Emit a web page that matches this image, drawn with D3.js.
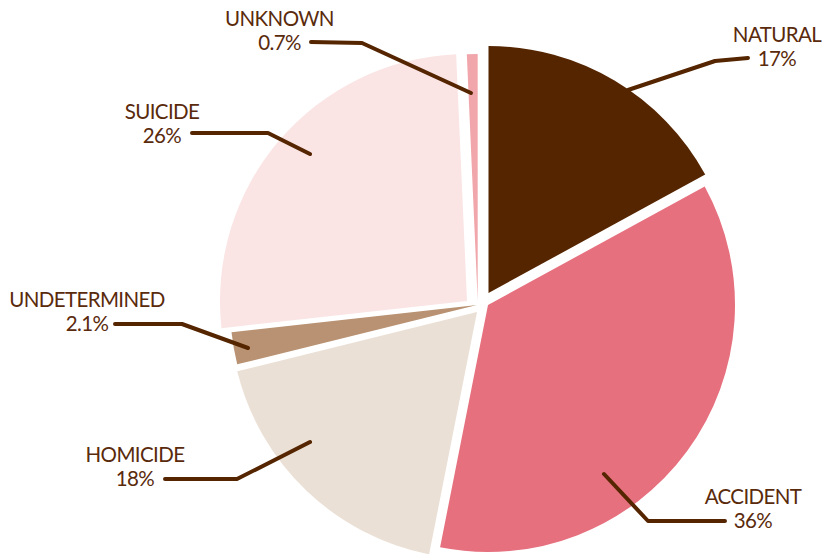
<!DOCTYPE html>
<html>
<head>
<meta charset="utf-8">
<script src="https://cdn.jsdelivr.net/npm/d3@7/dist/d3.min.js"></script>
<style>
  html, body { margin: 0; padding: 0; background: #ffffff; }
  svg { display: block; }
  text { font-family: Lato, "Open Sans", sans-serif; }
</style>
</head>
<body>
<svg id="chart" width="825" height="554"></svg>
<script>
// ---- data ----
const categories = ["NATURAL", "ACCIDENT", "HOMICIDE", "UNDETERMINED", "SUICIDE", "UNKNOWN"];
const values = [17, 36, 18, 2.1, 26, 0.7];
const valueLabels = ["17%", "36%", "18%", "2.1%", "26%", "0.7%"];

// ---- styles / layout ----
const colors = ["#552500", "#e6707e", "#ebe0d5", "#b89272", "#fae4e4", "#f0a6aa"];
const textColor = "#5a2a0c";
const lineColor = "#552500";
const center = [478, 302];
const radius = 247;
// small per-slice displacement (explode) in px
const explode = [[10.5, -9], [10, 3], [-1, 10], [-1, 3], [-11, -1], [-0.3, -1]];
// label anchors (centre of text block, first baseline)
const labelPos = [[777, 42], [753, 504], [135, 462], [87, 307], [162, 119], [279.5, 26]];
const lineGap = 24;
// leader polylines: [label-side end, elbow, slice-side end]
const leaders = [
  [[748, 58], [715, 61], [628, 90]],
  [[725, 521], [648, 521], [604, 474]],
  [[165, 479], [237, 479], [310, 442]],
  [[115, 324], [182, 324], [248, 348]],
  [[192, 133], [268, 133], [310, 154]],
  [[311, 42], [362, 43], [471, 93]]
];

const svg = d3.select("#chart");
const pie = d3.pie().sort(null).value(d => d);
const arc = d3.arc().innerRadius(0).outerRadius(radius);
const arcs = pie(values);

svg.append("g")
  .attr("transform", `translate(${center[0]},${center[1]})`)
  .selectAll("path")
  .data(arcs)
  .join("path")
  .attr("transform", (d, i) => `translate(${explode[i][0]},${explode[i][1]})`)
  .attr("d", arc)
  .attr("fill", (d, i) => colors[i]);

const line = d3.line();
svg.append("g")
  .selectAll("path")
  .data(leaders)
  .join("path")
  .attr("d", d => line(d))
  .attr("fill", "none")
  .attr("stroke", lineColor)
  .attr("stroke-width", 4)
  .attr("stroke-linecap", "round")
  .attr("stroke-linejoin", "round");

const labelG = svg.append("g")
  .attr("fill", textColor)
  .attr("font-size", 20.5)
  .attr("letter-spacing", -0.6)
  .attr("text-anchor", "middle");

labelG.selectAll("text.name")
  .data(categories)
  .join("text")
  .attr("class", "name")
  .attr("x", (d, i) => labelPos[i][0])
  .attr("y", (d, i) => labelPos[i][1])
  .text(d => d);

labelG.selectAll("text.value")
  .data(valueLabels)
  .join("text")
  .attr("class", "value")
  .attr("x", (d, i) => labelPos[i][0])
  .attr("y", (d, i) => labelPos[i][1] + lineGap)
  .text(d => d);
</script>
</body>
</html>
